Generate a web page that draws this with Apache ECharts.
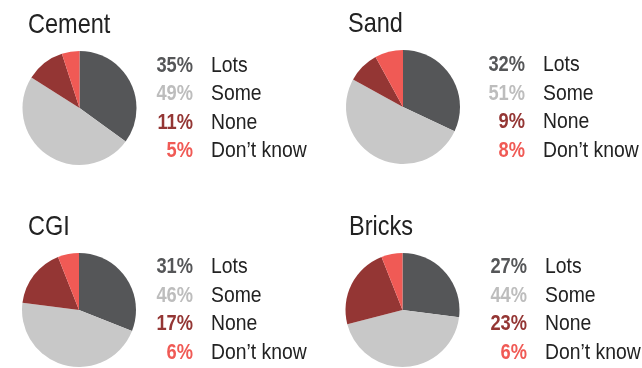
<!DOCTYPE html>
<html>
<head>
<meta charset="utf-8">
<script src="https://cdn.jsdelivr.net/npm/echarts@6/dist/echarts.min.js"></script>
<style>html,body{margin:0;padding:0;background:#fff;}#c{width:642px;height:368px;}</style>
</head>
<body>
<div id="c"></div>
<script>
// ---- data ----
const panels = ["Cement", "Sand", "CGI", "Bricks"];
const categories = ["Lots", "Some", "None", "Don\u2019t know"];
const cementValues = [35, 49, 11, 5];
const sandValues = [32, 51, 9, 8];
const cgiValues = [31, 46, 17, 6];
const bricksValues = [27, 44, 23, 6];
const allValues = [cementValues, sandValues, cgiValues, bricksValues];

// ---- styling / layout ----
const sliceColors = ["#555658", "#c8c8c8", "#943634", "#f05a55"];
const pctColors = ["#555658", "#bdbdbd", "#943634", "#f05a55"];
const layout = [
  {cx: 79.5, cy: 108, tx: 28, ty: 25, px: 193, lx: 211, ry: 65.5},
  {cx: 403, cy: 107, tx: 348, ty: 24.5, px: 525, lx: 543, ry: 65},
  {cx: 79, cy: 310, tx: 28, ty: 227, px: 193, lx: 211, ry: 267},
  {cx: 402.5, cy: 310, tx: 349, ty: 227, px: 527, lx: 545, ry: 267}
];
const radius = 57;
const rowGap = 28.6;
const FONT = '"Liberation Sans", Arial, sans-serif';

const series = panels.map((name, i) => ({
  type: 'pie',
  name: name,
  center: [layout[i].cx, layout[i].cy],
  radius: radius,
  startAngle: 90,
  clockwise: true,
  silent: true,
  animation: false,
  label: {show: false},
  labelLine: {show: false},
  itemStyle: {borderWidth: 0},
  data: categories.map((c, j) => ({name: c, value: allValues[i][j], itemStyle: {color: sliceColors[j]}}))
}));

const graphics = [];
panels.forEach((name, i) => {
  const L = layout[i];
  graphics.push({
    type: 'text', x: L.tx, y: L.ty, scaleX: 0.84, silent: true,
    style: {text: name, font: '28px ' + FONT, fill: '#222222', textAlign: 'left', textVerticalAlign: 'middle'}
  });
  categories.forEach((c, j) => {
    const y = L.ry + j * rowGap;
    graphics.push({
      type: 'text', x: L.px, y: y, scaleX: 0.83, silent: true,
      style: {text: allValues[i][j] + '%', font: 'bold 22px ' + FONT, fill: pctColors[j], textAlign: 'right', textVerticalAlign: 'middle'}
    });
    graphics.push({
      type: 'text', x: L.lx, y: y, scaleX: 0.88, silent: true,
      style: {text: c, font: '22px ' + FONT, fill: '#222222', textAlign: 'left', textVerticalAlign: 'middle'}
    });
  });
});

const chart = echarts.init(document.getElementById('c'), null, {renderer: 'canvas'});
chart.setOption({
  animation: false,
  series: series,
  graphic: graphics
});
</script>
</body>
</html>
